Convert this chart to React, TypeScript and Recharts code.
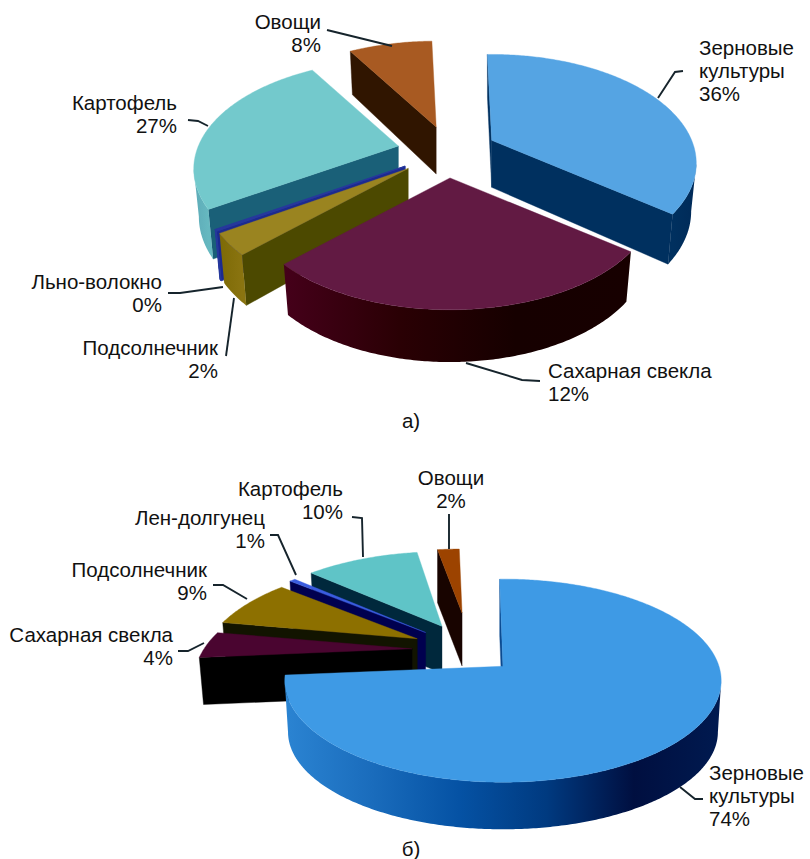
import React from "react";
import { PieChart, Pie } from "recharts";

const WIDTH = 810;
const HEIGHT = 859;
const FONT = "'Liberation Sans', Arial, sans-serif";
const FONT_SIZE = 20.5;
const INK = "#16242c";

// ---------- data ----------
const cropsA = ["Зерновые культуры", "Сахарная свекла", "Подсолнечник", "Льно-волокно", "Картофель", "Овощи"];
const sharesA = [36.0, 26.9, 3.2, 0.22, 25.6, 8.06];
const percentLabelsA = ["36%", "12%", "2%", "0%", "27%", "8%"];

const cropsB = ["Зерновые культуры", "Сахарная свекла", "Подсолнечник", "Лен-долгунец", "Картофель", "Овощи"];
const sharesB = [73.9, 4.2, 8.06, 0.56, 11.1, 2.2];
const percentLabelsB = ["74%", "4%", "9%", "1%", "10%", "2%"];

const tableA = cropsA.map((name, i) => ({ name, value: sharesA[i], percent: percentLabelsA[i], slot: i }));
const tableB = cropsB.map((name, i) => ({ name, value: sharesB[i], percent: percentLabelsB[i], slot: i }));

// ---------- layout & styling (not data) ----------
type Lens = { R: number; S: number; p: number; H: number; taper: number; E: number; pinch: number; dx: number; dy: number };
type Look = { top: string; cut: string; wall: string[]; line?: string };

const lensA: Lens = { R: 200, S: 104, p: 0.211, H: 47, taper: 0.45, E: 50, pinch: 0.025, dx: 0, dy: 0 };
const lensAVeg: Lens = { ...lensA, dx: 3 };
const lensBRear: Lens = { R: 208, S: 97, p: 0.3, H: 47, taper: 0, E: 58, pinch: 0.02, dx: 0, dy: 0 };
const lensBFront: Lens = { R: 216, S: 99.5, p: 0.142, H: 52, taper: -0.65, E: 43, pinch: 0.015, dx: 1, dy: 3 };
const lensBVeg: Lens = { R: 205, S: 83, p: 0.3, H: 53, taper: 0, E: 92, pinch: 0, dx: 0, dy: 0 };

const lensesA = [lensA, lensA, lensA, lensA, lensA, lensAVeg];
const lensesB = [lensBFront, lensBRear, lensBRear, lensBRear, lensBRear, lensBVeg];

const looksA: Look[] = [
  { top: "#55a4e3", cut: "#00305f", wall: ["#00305f", "#002a58"] },
  { top: "#621a43", cut: "#2a0010", wall: ["#45001a", "#2a0004", "#160000", "#170000"] },
  { top: "#9a8420", cut: "#4c4900", wall: ["#7d6a06", "#8a7410"] },
  { top: "#2a3a9e", cut: "#1c2a90", wall: ["#1c2a90", "#1c2a90"], line: "#26389c" },
  { top: "#73c9cc", cut: "#1a6078", wall: ["#5dabb8", "#66b8c0"] },
  { top: "#a85a22", cut: "#301500", wall: ["#301500", "#301500"] },
];
const looksB: Look[] = [
  { top: "#3e9ae5", cut: "#0a4a90", wall: ["#2b84d2", "#1a6cbc", "#0552a4", "#003a80", "#000f40", "#001a50"] },
  { top: "#4a0530", cut: "#000000", wall: ["#000000", "#000000"] },
  { top: "#8d7000", cut: "#121400", wall: ["#121400", "#121400"] },
  { top: "#3a5ce0", cut: "#00004f", wall: ["#00004f", "#00004f"] },
  { top: "#5fc4c7", cut: "#00283c", wall: ["#00283c", "#00283c"] },
  { top: "#9c4300", cut: "#180400", wall: ["#180400", "#180400"] },
];

// Painter's order: rear slices first.
const drawOrderA = [5, 4, 0, 3, 2, 1];
const drawOrderB = [5, 4, 3, 2, 1, 0];

type Note = { lines: string[]; x: number; y: number; anchor: "start" | "middle" | "end"; leader: number[][] };
const notesA: Note[] = [
  { lines: ["Зерновые", "культуры"], x: 699, y: 55, anchor: "start", leader: [[683, 71], [675, 72], [658, 98]] },
  { lines: ["Сахарная свекла"], x: 548, y: 378, anchor: "start", leader: [[466, 363], [522, 380], [540, 381]] },
  { lines: ["Подсолнечник"], x: 218, y: 355, anchor: "end", leader: [[226, 356], [234, 298]] },
  { lines: ["Льно-волокно"], x: 162, y: 289, anchor: "end", leader: [[168, 293], [180, 293], [223, 287]] },
  { lines: ["Картофель"], x: 177, y: 110, anchor: "end", leader: [[188, 120], [198, 121], [208, 126]] },
  { lines: ["Овощи"], x: 321, y: 29, anchor: "end", leader: [[327, 30], [392, 46]] },
];
const notesB: Note[] = [
  { lines: ["Зерновые", "культуры"], x: 709, y: 780, anchor: "start", leader: [[680, 787], [695, 799], [703, 799]] },
  { lines: ["Сахарная свекла"], x: 173, y: 642, anchor: "end", leader: [[178, 651], [188, 651], [204, 643]] },
  { lines: ["Подсолнечник"], x: 207, y: 577, anchor: "end", leader: [[213, 585], [223, 585], [247, 599]] },
  { lines: ["Лен-долгунец"], x: 265, y: 525, anchor: "end", leader: [[270, 535], [278, 535], [296, 575]] },
  { lines: ["Картофель"], x: 343, y: 496, anchor: "end", leader: [[352, 517], [362, 518], [363, 557]] },
  { lines: ["Овощи"], x: 451, y: 485, anchor: "middle", leader: [[449, 514], [449, 549]] },
];

// ---------- projection ----------
const RAD = Math.PI / 180;
const path = (pts: number[][]) => pts.map((p, i) => `${i ? "L" : "M"}${p[0].toFixed(2)} ${p[1].toFixed(2)}`).join(" ") + " Z";

function drawSlice(props: any, lens: Lens, look: Look, gid: string) {
  const { cx, cy } = props;
  const t0 = 90 - props.startAngle;
  const t1 = 90 - props.endAngle;
  const mid = ((t0 + t1) / 2) * RAD;
  const ax = cx + lens.dx + lens.E * Math.sin(mid);
  const ay = cy + lens.dy - lens.E * (lens.S / lens.R) * Math.cos(mid);
  const rim = (deg: number, r = 1) => {
    const X = r * Math.sin(deg * RAD);
    const Y = -r * Math.cos(deg * RAD);
    const w = 1 - lens.p * Y;
    const x = ax + (lens.R * X) / w;
    return {
      x,
      y: ay + (lens.S * Y) / w,
      h: lens.H * Math.pow(w, -lens.taper),
      bx: ax + (x - ax) * (1 - lens.pinch),
    };
  };
  const apexH = lens.H;
  const steps = Math.max(2, Math.ceil((t1 - t0) * 1.5));
  const arc = Array.from({ length: steps + 1 }, (_, i) => rim(t0 + ((t1 - t0) * i) / steps));

  const faceFor = (deg: number, inward: number) => {
    const c = rim(deg);
    const probe = rim(deg + inward * Math.min((t1 - t0) / 2, 10), 0.5);
    const ex = c.x - ax;
    const ey = c.y - ay;
    const crossInner = ex * (probe.y - ay) - ey * (probe.x - ax);
    if (crossInner * ex >= 0) return null;
    return path([[ax, ay], [c.x, c.y], [c.bx, c.y + c.h], [ax, ay + apexH]]);
  };
  const faces = [faceFor(t0, 1), faceFor(t1, -1)].filter(Boolean) as string[];

  const wallParts: string[] = [];
  const wallXs: number[] = [];
  for (let i = 0; i < steps; i++) {
    const a = arc[i];
    const b = arc[i + 1];
    if (b.x < a.x) {
      wallParts.push(path([[a.x, a.y], [b.x, b.y], [b.bx, b.y + b.h], [a.bx, a.y + a.h]]));
      wallXs.push(a.x, b.x);
    }
  }
  const x0 = wallXs.length ? Math.min(...wallXs) : 0;
  const x1 = wallXs.length ? Math.max(...wallXs) : 1;
  const topPath = path([[ax, ay], ...arc.map((p) => [p.x, p.y])]);
  const stroke = look.line;

  return (
    <g>
      <defs>
        <linearGradient id={gid} gradientUnits="userSpaceOnUse" x1={x0} y1={0} x2={x1 + 0.01} y2={0}>
          {look.wall.map((c, i) => (
            <stop key={i} offset={i / (look.wall.length - 1)} stopColor={c} />
          ))}
        </linearGradient>
      </defs>
      {faces.map((d, i) => (
        <path key={i} d={d} fill={look.cut} stroke={stroke ?? look.cut} strokeWidth={stroke ? 1 : 0.4} />
      ))}
      {wallParts.length > 0 && <path d={wallParts.join(" ")} fill={`url(#${gid})`} stroke={stroke ?? "none"} strokeWidth={stroke ? 1 : 0} />}
      <path d={topPath} fill={look.top} stroke={stroke ?? look.top} strokeWidth={stroke ? 1.2 : 0.4} />
    </g>
  );
}

function NoteMark({ note, percent }: { note: Note; percent: string }) {
  const lines = [...note.lines, percent];
  return (
    <g>
      <polyline points={note.leader.map((p) => p.join(",")).join(" ")} fill="none" stroke={INK} strokeWidth={1.9} />
      {lines.map((t, i) => (
        <text key={i} x={note.x} y={note.y + i * 23} textAnchor={note.anchor} fontFamily={FONT} fontSize={FONT_SIZE} fill="#111">
          {t}
        </text>
      ))}
    </g>
  );
}

function layers(
  prefix: string,
  table: typeof tableA,
  order: number[],
  lenses: Lens[],
  looks: Look[],
  notes: Note[],
  cx: number,
  cy: number,
  start: number,
) {
  return order.map((slot) => (
    <Pie
      key={`${prefix}${slot}`}
      data={table}
      dataKey="value"
      nameKey="name"
      cx={cx}
      cy={cy}
      innerRadius={0}
      outerRadius={lenses[slot].R}
      startAngle={start}
      endAngle={start - 360}
      stroke="none"
      isAnimationActive={false}
      labelLine={false}
      label={(p: any) => {
        const s = p.payload?.slot ?? p.slot;
        return s === slot ? <NoteMark note={notes[slot]} percent={table[slot].percent} /> : <g />;
      }}
      shape={(p: any) => {
        const s = p.payload?.slot ?? p.slot;
        return s === slot ? drawSlice(p, lenses[slot], looks[slot], `${prefix}-wall-${slot}`) : <g />;
      }}
    />
  ));
}

export default function App() {
  return (
    <div style={{ position: "absolute", left: 0, top: 0, width: WIDTH, height: HEIGHT, background: "#fff" }}>
      <PieChart width={WIDTH} height={HEIGHT} margin={{ top: 0, right: 0, bottom: 0, left: 0 }}>
        {layers("a", tableA, drawOrderA, lensesA, looksA, notesA, 447, 152, 91.5)}
        {layers("b", tableB, drawOrderB, lensesB, looksB, notesB, 470, 650, 91)}
        <text x={411} y={428} textAnchor="middle" fontFamily={FONT} fontSize={FONT_SIZE} fill="#111">а)</text>
        <text x={411} y={856} textAnchor="middle" fontFamily={FONT} fontSize={FONT_SIZE} fill="#111">б)</text>
      </PieChart>
    </div>
  );
}
